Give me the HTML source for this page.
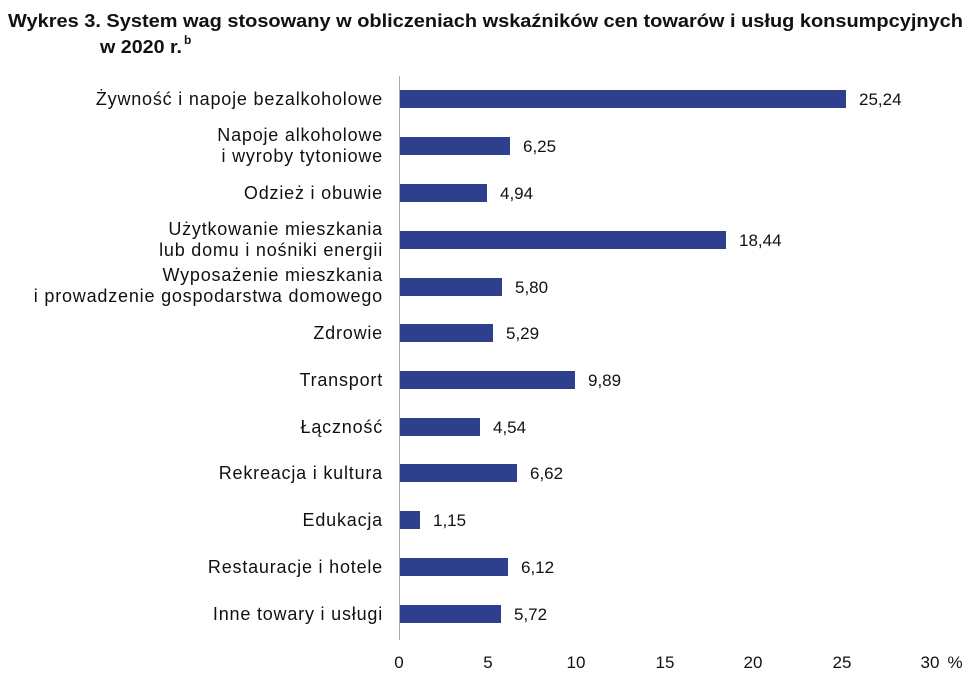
<!DOCTYPE html>
<html><head><meta charset="utf-8"><style>
body{margin:0;background:#fff;}
svg{display:block;font-family:"Liberation Sans",sans-serif;}
</style></head><body>
<svg width="973" height="680" viewBox="0 0 973 680" xmlns="http://www.w3.org/2000/svg">
<text x="8" y="27" font-size="18" font-weight="bold" fill="#111" textLength="955" lengthAdjust="spacingAndGlyphs">Wykres 3. System wag stosowany w obliczeniach wskaźników cen towarów i usług konsumpcyjnych</text>
<text x="100" y="53" font-size="18" font-weight="bold" fill="#111" textLength="82" lengthAdjust="spacingAndGlyphs">w 2020 r.</text>
<text x="184" y="44" font-size="12" font-weight="bold" fill="#111">b</text>
<line x1="399.5" y1="76" x2="399.5" y2="640" stroke="#aaa" stroke-width="1"/>
<g fill="#2e3f8e">
<rect x="400" y="90" width="446" height="18"/>
<rect x="400" y="137" width="110" height="18"/>
<rect x="400" y="184" width="87" height="18"/>
<rect x="400" y="231" width="326" height="18"/>
<rect x="400" y="278" width="102" height="18"/>
<rect x="400" y="324" width="93" height="18"/>
<rect x="400" y="371" width="175" height="18"/>
<rect x="400" y="418" width="80" height="18"/>
<rect x="400" y="464" width="117" height="18"/>
<rect x="400" y="511" width="20" height="18"/>
<rect x="400" y="558" width="108" height="18"/>
<rect x="400" y="605" width="101" height="18"/>
</g>
<g font-size="17" fill="#111">
<text x="859" y="105">25,24</text>
<text x="523" y="152">6,25</text>
<text x="500" y="199">4,94</text>
<text x="739" y="246">18,44</text>
<text x="515" y="293">5,80</text>
<text x="506" y="339">5,29</text>
<text x="588" y="386">9,89</text>
<text x="493" y="433">4,54</text>
<text x="530" y="479">6,62</text>
<text x="433" y="526">1,15</text>
<text x="521" y="573">6,12</text>
<text x="514" y="620">5,72</text>
</g>
<g font-size="18" fill="#111" text-anchor="end" letter-spacing="0.8">
<text x="383" y="105">Żywność i napoje bezalkoholowe</text>
<text x="383" y="141">Napoje alkoholowe</text>
<text x="383" y="162">i wyroby tytoniowe</text>
<text x="383" y="199">Odzież i obuwie</text>
<text x="383" y="235">Użytkowanie mieszkania</text>
<text x="383" y="256">lub domu i nośniki energii</text>
<text x="383" y="281">Wyposażenie mieszkania</text>
<text x="383" y="302">i prowadzenie gospodarstwa domowego</text>
<text x="383" y="339">Zdrowie</text>
<text x="383" y="386">Transport</text>
<text x="383" y="433">Łączność</text>
<text x="383" y="479">Rekreacja i kultura</text>
<text x="383" y="526">Edukacja</text>
<text x="383" y="573">Restauracje i hotele</text>
<text x="383" y="620">Inne towary i usługi</text>
</g>
<g font-size="17" fill="#111" text-anchor="middle">
<text x="399" y="668">0</text>
<text x="488" y="668">5</text>
<text x="576" y="668">10</text>
<text x="665" y="668">15</text>
<text x="753" y="668">20</text>
<text x="842" y="668">25</text>
<text x="930" y="668">30</text>
<text x="955" y="668">%</text>
</g>
</svg>
</body></html>
